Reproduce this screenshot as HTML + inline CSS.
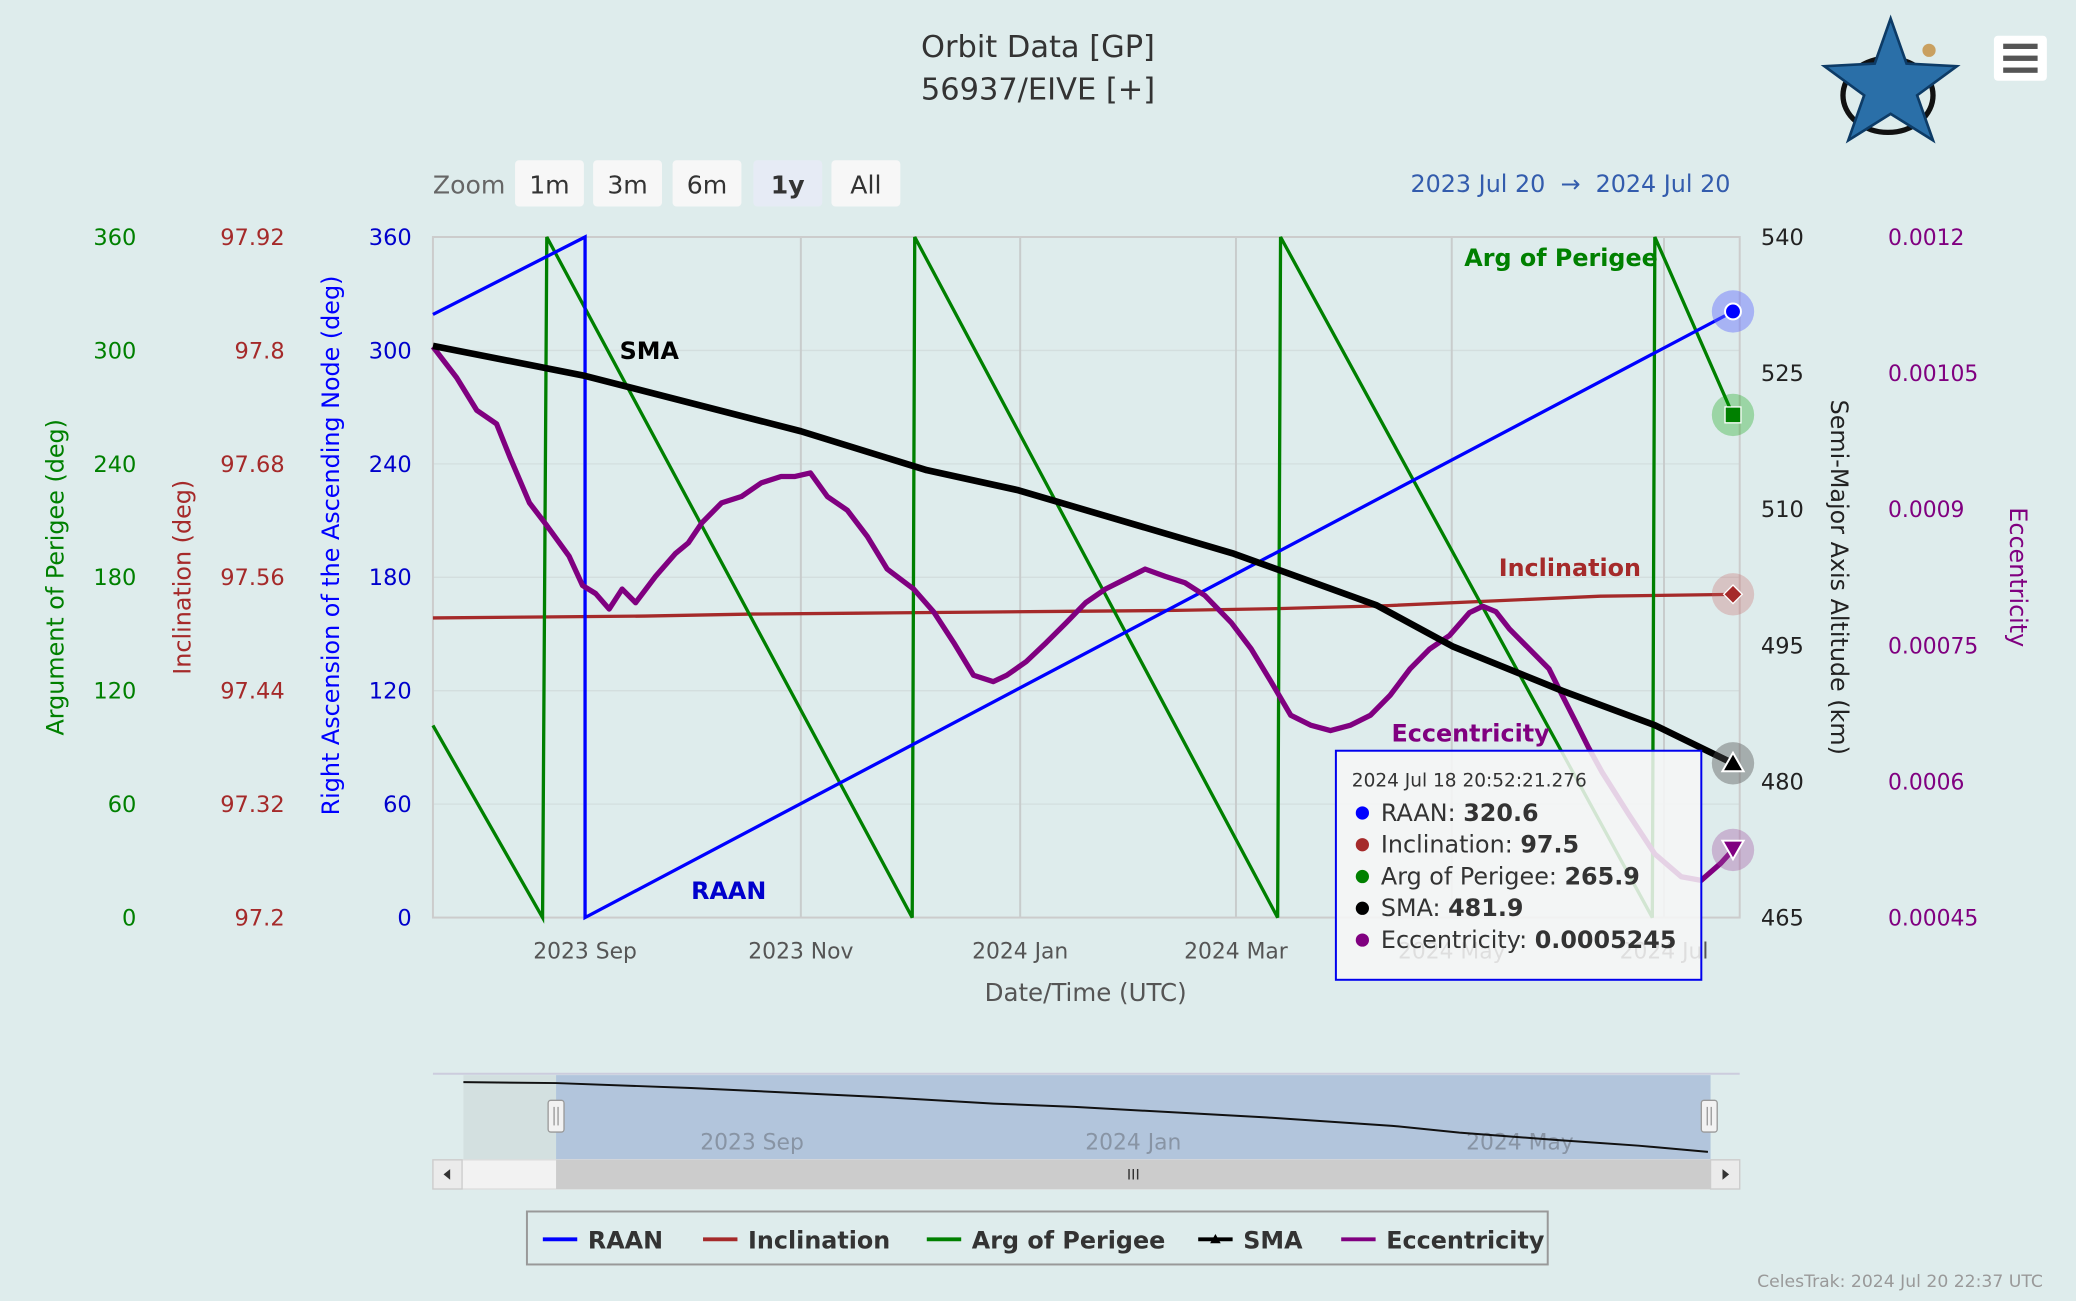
<!DOCTYPE html>
<html><head><meta charset="utf-8"><style>
html,body{margin:0;padding:0;background:#deecec;}
svg{display:block;font-family:"DejaVu Sans","Liberation Sans",sans-serif;}
</style></head><body>
<svg id="c" width="2076" height="1301" viewBox="0 0 1568 982.6" preserveAspectRatio="none">
<rect x="0" y="0" width="1568" height="983" fill="#deecec"/>
<text x="784" y="43" text-anchor="middle" font-size="23" fill="#333">Orbit Data [GP]</text>
<text x="784" y="75" text-anchor="middle" font-size="23" fill="#333">56937/EIVE [+]</text>
<g>
<ellipse cx="1426" cy="72" rx="34" ry="28" fill="none" stroke="#111" stroke-width="4"/>
<polygon points="1428,14 1440,48 1478,50 1448,72 1460,106 1428,86 1396,106 1408,72 1378,50 1416,48" fill="#2a6fa8" stroke="#0d3b66" stroke-width="2"/>
<circle cx="1457" cy="38" r="5" fill="#c9a060"/>
</g>
<g>
<rect x="1506" y="27" width="40" height="34" rx="3" fill="#fff"/>
<rect x="1513" y="33" width="26" height="4" fill="#555"/><rect x="1513" y="42" width="26" height="4" fill="#555"/><rect x="1513" y="51" width="26" height="4" fill="#555"/>
</g>
<text x="327" y="146" font-size="19" fill="#666">Zoom</text>
<g id="zoomBtns"></g>
<text x="1307" y="145" text-anchor="end" font-size="18" fill="#335cad">2023 Jul 20 &#160;→&#160; 2024 Jul 20</text>
<g id="grid"></g>
<g id="axes"></g>
<g id="series"></g>
<g id="labels"></g>
<g id="tooltip">
<rect x="1009" y="567" width="276" height="173" fill="rgba(247,247,247,0.85)" stroke="#0000ee" stroke-width="1.5"/>
<text x="1021" y="594" font-size="14" fill="#333">2024 Jul 18 20:52:21.276</text>
<circle cx="1029" cy="614" r="5" fill="#0000ff"/><text x="1043" y="620" font-size="18" fill="#333">RAAN: <tspan font-weight="bold">320.6</tspan></text>
<circle cx="1029" cy="638" r="5" fill="#a52a2a"/><text x="1043" y="644" font-size="18" fill="#333">Inclination: <tspan font-weight="bold">97.5</tspan></text>
<circle cx="1029" cy="662" r="5" fill="#008000"/><text x="1043" y="668" font-size="18" fill="#333">Arg of Perigee: <tspan font-weight="bold">265.9</tspan></text>
<circle cx="1029" cy="686" r="5" fill="#000"/><text x="1043" y="692" font-size="18" fill="#333">SMA: <tspan font-weight="bold">481.9</tspan></text>
<circle cx="1029" cy="710" r="5" fill="#800080"/><text x="1043" y="716" font-size="18" fill="#333">Eccentricity: <tspan font-weight="bold">0.0005245</tspan></text>
</g>
<g id="nav"></g>
<g>
<rect x="398" y="915" width="771" height="40" fill="none" stroke="#999" stroke-width="1.5"/>
</g>
<g id="legend"></g>
<text x="1543" y="972" text-anchor="end" font-size="13" fill="#999">CelesTrak: 2024 Jul 20 22:37 UTC</text>
</svg>
<script>
// ---- data ----
const raanDays = [0, 43, 43, 367.5];
const raanVals = [319, 360, 0, 320.6];
const argpDays = [0, 31, 32.2, 135.5, 136.2, 238.8, 239.6, 344.7, 345.4, 367.5];
const argpVals = [101.6, 0, 360, 0, 360, 0, 360, 0, 360, 265.9];
const incDays = [0, 30, 60, 90, 120, 150, 180, 210, 240, 270, 300, 330, 367.5];
const incVals = [97.517, 97.518, 97.519, 97.521, 97.522, 97.523, 97.524, 97.525, 97.527, 97.530, 97.535, 97.540, 97.542];
const smaDays = [0, 43, 104, 139.6, 165.4, 226.4, 266.8, 288.2, 319.2, 345.4, 367.5];
const smaVals = [528, 524.7, 518.6, 514.3, 512.1, 505.1, 499.4, 494.9, 490, 486.2, 482];
const eccDays = [0,6.7,12.4,18,21.7,27.3,32.2,38.5,42.3,46,49.8,53.5,57.3,62.9,68.5,72.2,76,81.6,87.2,92.8,98.4,102.2,106.7,111.5,117.1,122.8,128.4,135.9,141.5,147.2,152.8,158.4,162.2,167.7,173.4,179,184.5,190.1,195.7,201.3,207,212.6,218.2,225.7,231.3,236.9,242.5,248.1,253.7,259.4,265,270.6,276.2,281.8,287.4,293,296.8,300.5,304.3,309.9,315.5,319.2,323,326.7,330.5,338,345.4,352.9,358.5,364.1,367.5];
const eccVals = [1079,1045,1009,994,958,907,882,848,816,807,790,812,797,826,851,863,885,907,914,929,936,936,940,914,899,870,834,812,787,753,717,710,717,732,753,775,797,812,823,834,826,819,805,775,746,710,673,662,656,662,673,695,724,746,761,786,793,787,768,746,724,695,666,637,610,564,520,495,491,510,524.5]; // x1e-6
const xTickDays = [43, 104, 166, 227, 288, 348];
const xTickLabels = ["2023 Sep", "2023 Nov", "2024 Jan", "2024 Mar", "2024 May", "2024 Jul"];
const degTicks = [0, 60, 120, 180, 240, 300, 360];
const incTicks = ["97.2", "97.32", "97.44", "97.56", "97.68", "97.8", "97.92"];
const smaTicks = [465, 480, 495, 510, 525, 540];
const eccTicks = ["0.00045", "0.0006", "0.00075", "0.0009", "0.00105", "0.0012"];

// ---- scales ----
const X0 = 327, X1 = 1314, Y0 = 693, Y1 = 179;
const dayMax = 369.4;
const x = d => X0 + d / dayMax * (X1 - X0);
const yDeg = v => Y0 - v / 360 * (Y0 - Y1);
const yInc = v => Y0 - (v - 97.2) / 0.72 * (Y0 - Y1);
const ySma = v => Y0 - (v - 465) / 75 * (Y0 - Y1);
const yEcc = v => Y0 - (v - 450) / 750 * (Y0 - Y1);
const NS = "http://www.w3.org/2000/svg";
function mk(parent, tag, attrs, txt) {
  const e = document.createElementNS(NS, tag);
  for (const k in attrs) e.setAttribute(k, attrs[k]);
  if (txt !== undefined) e.textContent = txt;
  document.getElementById(parent).appendChild(e);
  return e;
}

// zoom buttons
const zl = ["1m", "3m", "6m", "1y", "All"], zx = [389, 448, 508, 569, 628];
zl.forEach((l, i) => {
  const r = mk("zoomBtns", "rect", {x: zx[i], y: 121, width: 52, height: 35, rx: 3, fill: l === "1y" ? "#e6ebf5" : "#f7f7f7"});
  
  
  const t = mk("zoomBtns", "text", {x: zx[i] + 26, y: 146, "text-anchor": "middle", "font-size": 19, fill: "#333", "font-weight": l === "1y" ? "bold" : "normal"}, l);
  
  
});

// grid
degTicks.forEach(v => {
  const l = mk("grid", "line", {x1: X0, x2: X1, y1: yDeg(v), y2: yDeg(v), stroke: "#d3dede", "stroke-width": 1});
  
  
});
xTickDays.forEach((d, i) => {
  const l = mk("grid", "line", {x1: x(d), x2: x(d), y1: Y1, y2: Y0, stroke: "#c8cccc", "stroke-width": 1.5});
  
  
  const t = mk("axes", "text", {x: x(d), y: 724, "text-anchor": "middle", "font-size": 16.5, fill: "#555"}, xTickLabels[i]);
  
  
});
const frame = mk("grid", "rect", {x: X0, y: Y1, width: X1 - X0, height: Y0 - Y1, fill: "none", stroke: "#ccc", "stroke-width": 1.5});


const xt = mk("axes", "text", {x: 820, y: 756, "text-anchor": "middle", "font-size": 18.5, fill: "#555"}, "Date/Time (UTC)");



// y axes
degTicks.forEach((v, i) => {
  const y = yDeg(v) + 6;
  let t = mk("axes", "text", {x: 103, y, "text-anchor": "end", "font-size": 17, fill: "#008000"}, v);
  
  
  t = mk("axes", "text", {x: 215, y, "text-anchor": "end", "font-size": 17, fill: "#a52a2a"}, incTicks[i]);
  
  
  t = mk("axes", "text", {x: 311, y, "text-anchor": "end", "font-size": 17, fill: "#0000cc"}, v);
  
  
});
smaTicks.forEach((v, i) => {
  const y = ySma(v) + 6;
  let t = mk("axes", "text", {x: 1330, y, "font-size": 17, fill: "#222"}, v);
  
  
  t = mk("axes", "text", {x: 1426, y, "font-size": 16.5, fill: "#800080"}, eccTicks[i]);
  
  
});
const titles = [
  ["Argument of Perigee (deg)", 48, 436, -90, "#008000", "argp-axis-title"],
  ["Inclination (deg)", 144, 436, -90, "#a52a2a", "inclination-axis-title"],
  ["Right Ascension of the Ascending Node (deg)", 256, 412, -90, "#0000ff", "raan-axis-title"],
  ["Semi-Major Axis Altitude (km)", 1383, 436, 90, "#222", "sma-axis-title"],
  ["Eccentricity", 1518, 436, 90, "#800080", "ecc-axis-title"]];
titles.forEach(a => {
  const t = mk("axes", "text", {x: a[1], y: a[2], "text-anchor": "middle", "font-size": 18, fill: a[4], transform: `rotate(${a[3]} ${a[1]} ${a[2]})`}, a[0]);
  
  
});

// series
function path(days, vals, ys) { return days.map((d, i) => (i ? "L" : "M") + x(d).toFixed(1) + "," + ys(vals[i]).toFixed(1)).join(""); }
let p;
p = mk("series", "path", {d: path(incDays, incVals, yInc), stroke: "#a52a2a", "stroke-width": 2.5, fill: "none"});
 
p = mk("series", "path", {d: path(argpDays, argpVals, yDeg), stroke: "#008000", "stroke-width": 2.5, fill: "none"});
 
p = mk("series", "path", {d: path(raanDays, raanVals, yDeg), stroke: "#0000ff", "stroke-width": 2.5, fill: "none"});
 
p = mk("series", "path", {d: path(eccDays, eccVals, yEcc), stroke: "#800080", "stroke-width": 4, fill: "none", "stroke-linejoin": "round"});
 
p = mk("series", "path", {d: path(smaDays, smaVals, ySma), stroke: "#000", "stroke-width": 5, fill: "none", "stroke-linejoin": "round"});
 

// end markers
const last = a => a[a.length - 1];
const mks = [[yDeg(last(raanVals)), "rgba(100,110,255,0.45)", "#0000ff", "c"], [yDeg(last(argpVals)), "rgba(0,160,0,0.3)", "#008000", "s"],
 [yInc(last(incVals)), "rgba(200,100,100,0.3)", "#a52a2a", "d"], [ySma(last(smaVals)), "rgba(80,80,80,0.4)", "#000", "t"], [yEcc(last(eccVals)), "rgba(160,80,160,0.35)", "#800080", "v"]];
const mx = x(last(raanDays));
mks.forEach(m => {
  let e = mk("series", "circle", {cx: mx, cy: m[0], r: 16, fill: m[1]});
   
  const y = m[0];
  if (m[3] === "c") e = mk("series", "circle", {cx: mx, cy: y, r: 6, fill: m[2], stroke: "#fff", "stroke-width": 1.5});
  else if (m[3] === "s") e = mk("series", "rect", {x: mx - 6, y: y - 6, width: 12, height: 12, fill: m[2], stroke: "#fff", "stroke-width": 1});
  else if (m[3] === "d") e = mk("series", "polygon", {points: `${mx},${y-7} ${mx+7},${y} ${mx},${y+7} ${mx-7},${y}`, fill: m[2], stroke: "#fff"});
  else if (m[3] === "t") e = mk("series", "polygon", {points: `${mx},${y-8} ${mx+8},${y+6} ${mx-8},${y+6}`, fill: m[2], stroke: "#fff", "stroke-width": 1.5});
  else e = mk("series", "polygon", {points: `${mx-8},${y-7} ${mx+8},${y-7} ${mx},${y+7}`, fill: m[2], stroke: "#fff", "stroke-width": 1.5});
   
});

// series labels
[["SMA", 468, 271, "#000"], ["RAAN", 522, 679, "#0000cc"], ["Arg of Perigee", 1106, 201, "#008000"], ["Inclination", 1132, 435, "#a52a2a"], ["Eccentricity", 1051, 560, "#800080"]].forEach(a => {
  const t = mk("labels", "text", {x: a[1], y: a[2], "font-size": 18, "font-weight": "bold", fill: a[3]}, a[0]);
  
  
});

// navigator
const NX0 = 420, NX1 = 1290;
const nx = d => NX0 + d / 367.5 * (NX1 - NX0);
const ny = v => 818 + (528 - v) / 46 * 52;
let n = mk("nav", "line", {x1: 327, x2: 1314, y1: 811, y2: 811, stroke: "#ccd", "stroke-width": 1.5});
 
n = mk("nav", "rect", {x: 350, y: 812, width: 70, height: 64, fill: "#d3e0e0"});
 
n = mk("nav", "rect", {x: 420, y: 812, width: 872, height: 64, fill: "#b2c5dc"});
 
["2023 Sep", "2024 Jan", "2024 May"].forEach((l, i) => {
  const t = mk("nav", "text", {x: [568, 856, 1148][i], y: 868, "text-anchor": "middle", "font-size": 16.5, fill: "#8894a4"}, l);
   
});
n = mk("nav", "path", {d: "M350," + ny(smaVals[0] + 0.6).toFixed(1) + smaDays.map((d, i) => "L" + nx(d).toFixed(1) + "," + ny(smaVals[i]).toFixed(1)).join(""), stroke: "#111", "stroke-width": 1.5, fill: "none"});
 
[420, 1291].forEach(hx => {
  const h = mk("nav", "rect", {x: hx - 6, y: 831, width: 12, height: 24, rx: 2, fill: "#f2f2f2", stroke: "#999"});
   
  mk("nav", "line", {x1: hx - 1.5, x2: hx - 1.5, y1: 836, y2: 850, stroke: "#999"});
  mk("nav", "line", {x1: hx + 1.5, x2: hx + 1.5, y1: 836, y2: 850, stroke: "#999"});
});
n = mk("nav", "rect", {x: 327, y: 876, width: 987, height: 22, fill: "#f2f2f2", stroke: "#ddd"});
 
n = mk("nav", "rect", {x: 420, y: 876, width: 872, height: 22, fill: "#cccccc"});
 
mk("nav", "text", {x: 856, y: 891, "text-anchor": "middle", "font-size": 11, fill: "#333"}, "III");
n = mk("nav", "rect", {x: 327, y: 876, width: 22, height: 22, fill: "#ebebeb", stroke: "#ccc"});
 
mk("nav", "polygon", {points: "335,887 340,883 340,891", fill: "#333"});
n = mk("nav", "rect", {x: 1292, y: 876, width: 22, height: 22, fill: "#ebebeb", stroke: "#ccc"});
 
mk("nav", "polygon", {points: "1306,887 1301,883 1301,891", fill: "#333"});

// legend
const lg = [["RAAN", "#0000ff", 410], ["Inclination", "#a52a2a", 531], ["Arg of Perigee", "#008000", 700], ["SMA", "#000", 905], ["Eccentricity", "#800080", 1013]];
lg.forEach(a => {
  const l = mk("legend", "line", {x1: a[2], x2: a[2] + 26, y1: 936, y2: 936, stroke: a[1], "stroke-width": 3});
   
  if (a[0] === "SMA") mk("legend", "polygon", {points: `${a[2]+13},932 ${a[2]+17},939 ${a[2]+9},939`, fill: "#000"});
  const t = mk("legend", "text", {x: a[2] + 34, y: 943, "font-size": 18, "font-weight": "bold", fill: "#333"}, a[0]);
   
});
</script>
</body></html>
